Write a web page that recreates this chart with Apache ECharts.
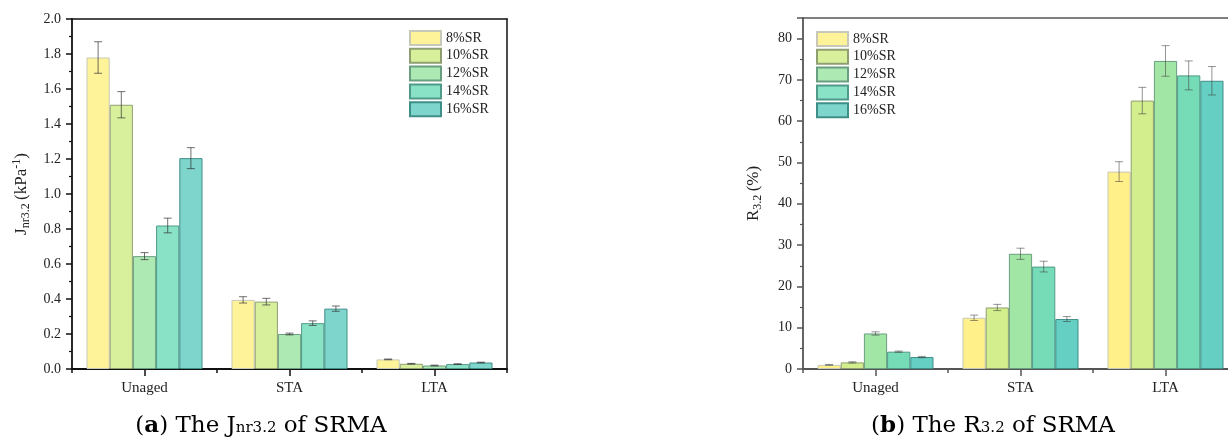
<!DOCTYPE html>
<html>
<head>
<meta charset="utf-8">
<script src="https://cdn.jsdelivr.net/npm/echarts@6/dist/echarts.min.js"></script>
<style>
html,body{margin:0;padding:0;background:#fff;}
#chart{width:1228px;height:439px;}
</style>
</head>
<body>
<div id="chart"></div>
<script>
// ---------- DATA ----------
const categories = ['Unaged', 'STA', 'LTA'];
const seriesNames = ['8%SR', '10%SR', '12%SR', '14%SR', '16%SR'];

// (a) Jnr3.2 (kPa^-1): means per series over categories
const jnr_8SR  = [1.78, 0.395, 0.055];
const jnr_10SR = [1.51, 0.385, 0.030];
const jnr_12SR = [0.645, 0.200, 0.020];
const jnr_14SR = [0.820, 0.262, 0.028];
const jnr_16SR = [1.205, 0.345, 0.037];
// (a) error bars
const jnrErr_8SR  = [0.090, 0.018, 0.002];
const jnrErr_10SR = [0.075, 0.019, 0.002];
const jnrErr_12SR = [0.020, 0.005, 0.002];
const jnrErr_14SR = [0.042, 0.013, 0.002];
const jnrErr_16SR = [0.060, 0.015, 0.002];

// (b) R3.2 (%)
const r_8SR  = [1.0, 12.4, 47.8];
const r_10SR = [1.6, 14.9, 65.0];
const r_12SR = [8.6, 27.9, 74.6];
const r_14SR = [4.2, 24.8, 71.1];
const r_16SR = [2.9, 12.1, 69.8];
// (b) error bars
const rErr_8SR  = [0.10, 0.65, 2.4];
const rErr_10SR = [0.15, 0.75, 3.2];
const rErr_12SR = [0.40, 1.35, 3.7];
const rErr_14SR = [0.15, 1.30, 3.5];
const rErr_16SR = [0.15, 0.60, 3.45];

// axis tick settings
const jnrAxis = { min: 0, max: 2.0, interval: 0.2 };
const rAxis = { min: 0, max: 85, interval: 10 };

// ---------- STYLE ----------
const jnrMeans = [jnr_8SR, jnr_10SR, jnr_12SR, jnr_14SR, jnr_16SR];
const jnrErrs = [jnrErr_8SR, jnrErr_10SR, jnrErr_12SR, jnrErr_14SR, jnrErr_16SR];
const rMeans = [r_8SR, r_10SR, r_12SR, r_14SR, r_16SR];
const rErrs = [rErr_8SR, rErr_10SR, rErr_12SR, rErr_14SR, rErr_16SR];

const fillA = ['#FFF39A', '#D8F09C', '#ADE9B2', '#89E1C6', '#7DD5CB'];
const fillB = ['#FFF08A', '#D3EE8C', '#A2E6A6', '#76DCB8', '#64CFC2'];
const borderCol = ['#c8c8b8', '#8f9f70', '#6a9e80', '#4f9a88', '#3f8e88'];
const errColA = 'rgba(50,50,50,0.7)';
const errColB = 'rgba(60,60,60,0.55)';
const serif = 'Liberation Serif';
const NS = seriesNames.length;

function errRender(idx, color) {
  return function (params, api) {
    const ci = api.value(0), m = api.value(1), e = api.value(2);
    const band = api.size([1, 0])[0];
    const bw = band * 0.8 / NS;
    const cx = api.coord([ci, m])[0] + (idx - (NS - 1) / 2) * bw;
    const yT = api.coord([ci, m + e])[1];
    const yB = api.coord([ci, m - e])[1];
    const cap = 4;
    const st = { stroke: color, lineWidth: 1 };
    return {
      type: 'group',
      children: [
        { type: 'line', shape: { x1: cx, y1: yT, x2: cx, y2: yB }, style: st },
        { type: 'line', shape: { x1: cx - cap, y1: yT, x2: cx + cap, y2: yT }, style: st },
        { type: 'line', shape: { x1: cx - cap, y1: yB, x2: cx + cap, y2: yB }, style: st }
      ]
    };
  };
}

const series = [];
function addPanel(means, errs, fills, errCol, xMain, yMain) {
  means.forEach(function (vals, i) {
    series.push({
      name: seriesNames[i], type: 'bar', xAxisIndex: xMain, yAxisIndex: yMain,
      data: vals, barGap: '0%', barCategoryGap: '20%',
      itemStyle: { color: fills[i], borderColor: borderCol[i], borderWidth: 1 },
      emphasis: { disabled: true }, z: 2
    });
  });
  errs.forEach(function (ev, i) {
    series.push({
      type: 'custom', xAxisIndex: xMain, yAxisIndex: yMain, z: 3,
      renderItem: errRender(i, errCol),
      encode: { x: 0, y: 1 },
      data: ev.map(function (e, c) { return [c, means[i][c], e]; }),
      silent: true
    });
  });
}
addPanel(jnrMeans, jnrErrs, fillA, errColA, 0, 0);
addPanel(rMeans, rErrs, fillB, errColB, 3, 2);

function catAxis(grid, lineCol) {
  return {
    type: 'category', gridIndex: grid, data: categories, position: 'bottom',
    axisLine: { show: true, onZero: false, lineStyle: { color: lineCol, width: 1.8 } },
    axisTick: { show: true, alignWithLabel: true, length: 7, inside: false, lineStyle: { color: lineCol, width: 1.5 } },
    axisLabel: { show: true, margin: 12, fontFamily: serif, fontSize: 15, color: '#222' },
    splitLine: { show: false }
  };
}
function frameX(grid, lineCol) {
  return {
    type: 'category', gridIndex: grid, data: categories, position: 'top',
    axisLine: { show: true, onZero: false, lineStyle: { color: lineCol, width: 1.5 } },
    axisTick: { show: false }, axisLabel: { show: false }, splitLine: { show: false }
  };
}
function boundaryTicks(grid, lineCol) {
  return {
    type: 'category', gridIndex: grid, data: categories, position: 'bottom',
    axisLine: { show: false, onZero: false },
    axisTick: { show: true, alignWithLabel: false, length: 4, lineStyle: { color: lineCol, width: 1.5 } },
    axisLabel: { show: false }, splitLine: { show: false }
  };
}

const xAxis = [
  catAxis(0, '#111'), frameX(0, '#111'), boundaryTicks(0, '#111'),
  catAxis(1, '#555'), frameX(1, '#555'), boundaryTicks(1, '#555')
];

function valAxis(grid, ax, lineCol, fmt, name, rich, gap) {
  return {
    type: 'value', gridIndex: grid, position: 'left',
    min: ax.min, max: ax.max, interval: ax.interval,
    axisLine: { show: true, onZero: false, lineStyle: { color: lineCol, width: 1.8 } },
    axisTick: { show: true, length: 6, lineStyle: { color: lineCol, width: 1.5 } },
    minorTick: { show: true, splitNumber: 2, length: 3, lineStyle: { color: lineCol, width: 1.2 } },
    axisLabel: { margin: 11, fontFamily: serif, fontSize: 14, color: '#222', formatter: fmt },
    splitLine: { show: false }, minorSplitLine: { show: false },
    name: name, nameLocation: 'middle', nameRotate: 90, nameGap: gap,
    nameTextStyle: { fontFamily: serif, fontSize: 17, color: '#222', rich: rich }
  };
}
function frameY(grid, lineCol) {
  return {
    type: 'value', gridIndex: grid, position: 'right', min: 0, max: 1,
    axisLine: { show: true, onZero: false, lineStyle: { color: lineCol, width: 1.5 } },
    axisTick: { show: false }, axisLabel: { show: false }, splitLine: { show: false }
  };
}
const nameRich = {
  m: { fontFamily: serif, fontSize: 17, color: '#222', lineHeight: 21 },
  s: { fontFamily: serif, fontSize: 12, color: '#222', lineHeight: 10, verticalAlign: 'bottom' },
  p: { fontFamily: serif, fontSize: 12, color: '#222', lineHeight: 10, verticalAlign: 'top' }
};
const yAxis = [
  valAxis(0, jnrAxis, '#111', function (v) { return v.toFixed(1); },
    '{m|J}{s|nr3.2}{m|\u2009(kPa}{p|-1}{m|)}', nameRich, 40),
  frameY(0, '#111'),
  valAxis(1, rAxis, '#555', function (v) { return v > 80 ? '' : String(Math.round(v)); },
    '{m|R}{s|3.2}{m|\u2009(%)}', nameRich, 39),
  frameY(1, '#555')
];

const capRich = {
  n: { fontFamily: 'DejaVu Serif', fontSize: 23, color: '#111', lineHeight: 28 },
  b: { fontFamily: 'DejaVu Serif', fontSize: 23, fontWeight: 'bold', color: '#111', lineHeight: 28 },
  s: { fontFamily: 'DejaVu Serif', fontSize: 15, color: '#111', lineHeight: 28, padding: [5, 0, 0, 0] }
};

const legendBase = {
  data: seriesNames, orient: 'vertical', itemWidth: 31, itemHeight: 14, itemGap: 1.8, icon: 'rect',
  padding: 0, selectedMode: false,
  textStyle: { fontFamily: serif, fontSize: 14, color: '#222', lineHeight: 14 }
};

const option = {
  animation: false,
  backgroundColor: '#ffffff',
  grid: [
    { left: 72, top: 19, width: 435, height: 350, outerBoundsMode: 'none', containLabel: false },
    { left: 803, top: 18, width: 435, height: 351, outerBoundsMode: 'none', containLabel: false }
  ],
  legend: [
    Object.assign({}, legendBase, { left: 409, top: 30 }),
    Object.assign({}, legendBase, { left: 816, top: 31 })
  ],
  xAxis: xAxis,
  yAxis: yAxis,
  series: series,
  graphic: [
    { type: 'text', x: 261, y: 426, style: {
        text: '{n|(}{b|a}{n|) The J}{s|nr3.2}{n| of SRMA}', rich: capRich,
        align: 'center', verticalAlign: 'middle' } },
    { type: 'text', x: 993, y: 426, style: {
        text: '{n|(}{b|b}{n|) The R}{s|3.2}{n| of SRMA}', rich: capRich,
        align: 'center', verticalAlign: 'middle' } }
  ]
};

const chart = echarts.init(document.getElementById('chart'), null, { renderer: 'canvas' });
chart.setOption(option);
</script>
</body>
</html>
